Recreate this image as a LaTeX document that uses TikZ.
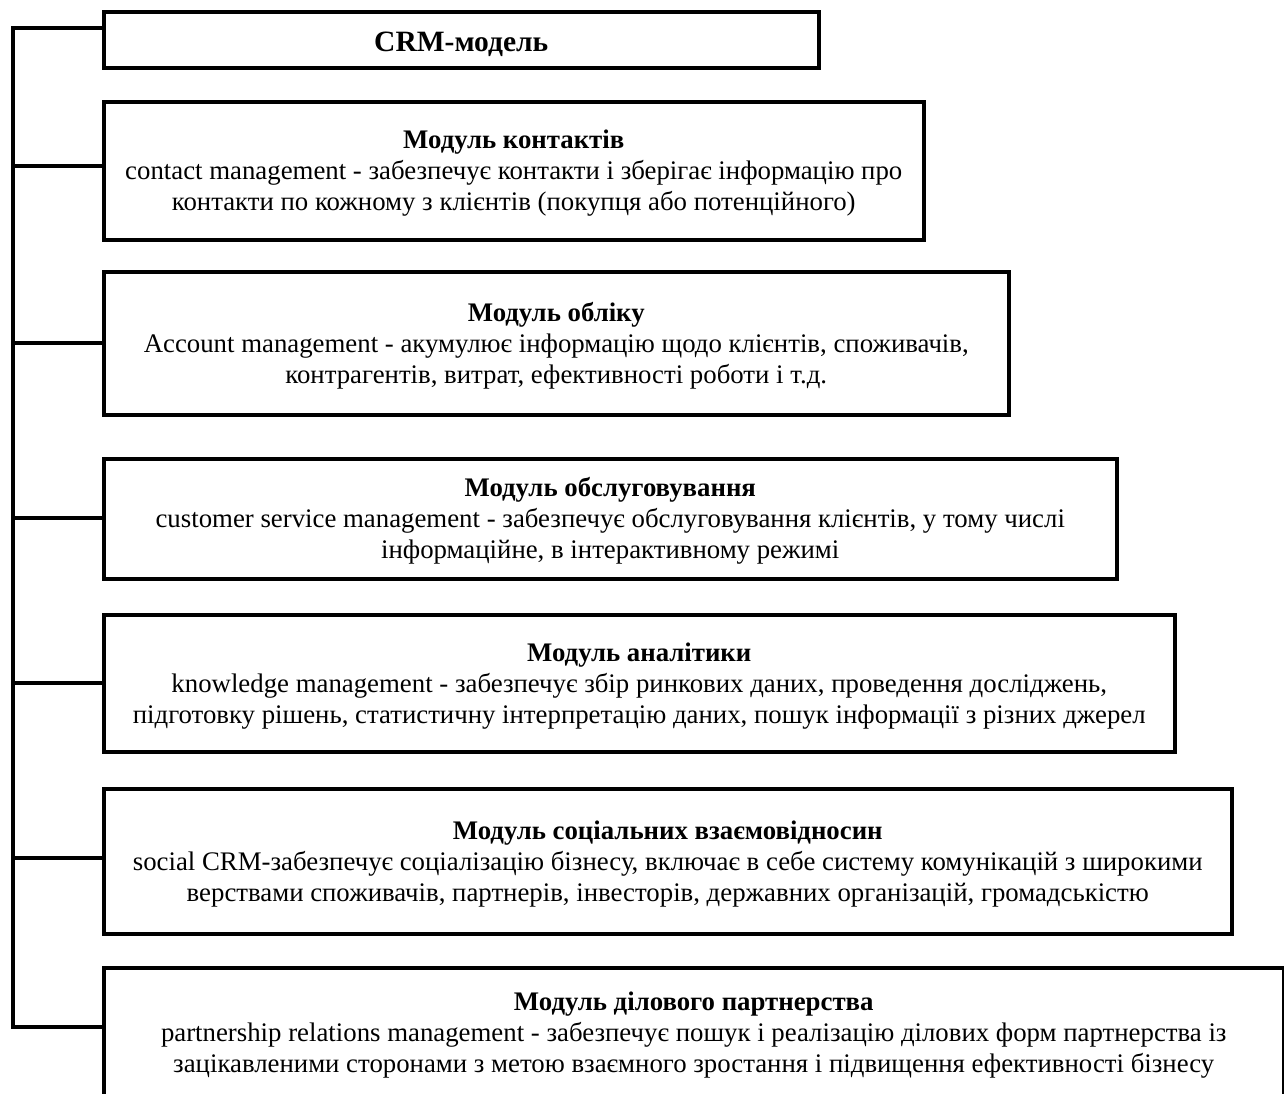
\documentclass[tikz,border=0pt]{standalone}
\usepackage{fontspec}
\setmainfont{Liberation Serif}
\newcommand\lowstrut[1]{\rule{0pt}{#1}}
\begin{document}
\begin{tikzpicture}[x=1pt,y=-1pt,
  box/.style={draw, line width=3.5pt, anchor=north west, align=center, inner sep=0pt,
    font=\fontsize{26.8}{31}\selectfont},
  conn/.style={line width=3.5pt, line join=miter}]
\useasboundingbox[fill=white] (0,0) rectangle (1284,1093);
\node[box, minimum width=715, minimum height=56, font=\fontsize{29.5}{31}\selectfont] (b1) at (102,10) {\lowstrut{29.5pt}\bfseries CRM-модель};
\node[box, minimum width=820, minimum height=138] (b2) at (102,100) {\lowstrut{24pt}{\bfseries Модуль контактів}\\
contact management - забезпечує контакти і зберігає інформацію про\\
контакти по кожному з клієнтів (покупця або потенційного)};
\node[box, minimum width=905, minimum height=143] (b3) at (102,270) {\lowstrut{24pt}{\bfseries Модуль обліку}\\
Account management - акумулює інформацію щодо клієнтів, споживачів,\\
контрагентів, витрат, ефективності роботи і т.д.};
\node[box, minimum width=1013, minimum height=120] (b4) at (102,457) {\lowstrut{24pt}{\bfseries Модуль обслуговування}\\
customer service management - забезпечує обслуговування клієнтів, у тому числі\\
інформаційне, в інтерактивному режимі};
\node[box, minimum width=1071, minimum height=137] (b5) at (102,613) {\lowstrut{24pt}{\bfseries Модуль аналітики}\\
knowledge management - забезпечує збір ринкових даних, проведення досліджень,\\
підготовку рішень, статистичну інтерпретацію даних, пошук інформації з різних джерел};
\node[box, minimum width=1128, minimum height=145] (b6) at (102,787) {\lowstrut{24pt}{\bfseries Модуль соціальних взаємовідносин}\\
social CRM-забезпечує соціалізацію бізнесу, включає в себе систему комунікацій з широкими\\
верствами споживачів, партнерів, інвесторів, державних організацій, громадськістю};
\node[box, minimum width=1180, minimum height=130] (b7) at (102,966) {\lowstrut{24pt}{\bfseries Модуль ділового партнерства}\\
partnership relations management - забезпечує пошук і реалізацію ділових форм партнерства із\\
зацікавленими сторонами з метою взаємного зростання і підвищення ефективності бізнесу};
\coordinate (s1) at (13,28);
\coordinate (s2) at (13,166);
\coordinate (s3) at (13,343);
\coordinate (s4) at (13,518);
\coordinate (s5) at (13,683);
\coordinate (s6) at (13,858);
\coordinate (s7) at (13,1027);
\draw[conn] (s1 -| b1.west) -- (s1) -- (s7) -- (s7 -| b7.west);
\draw[conn] (s2) -- (s2 -| b2.west);
\draw[conn] (s3) -- (s3 -| b3.west);
\draw[conn] (s4) -- (s4 -| b4.west);
\draw[conn] (s5) -- (s5 -| b5.west);
\draw[conn] (s6) -- (s6 -| b6.west);
\end{tikzpicture}
\end{document}
